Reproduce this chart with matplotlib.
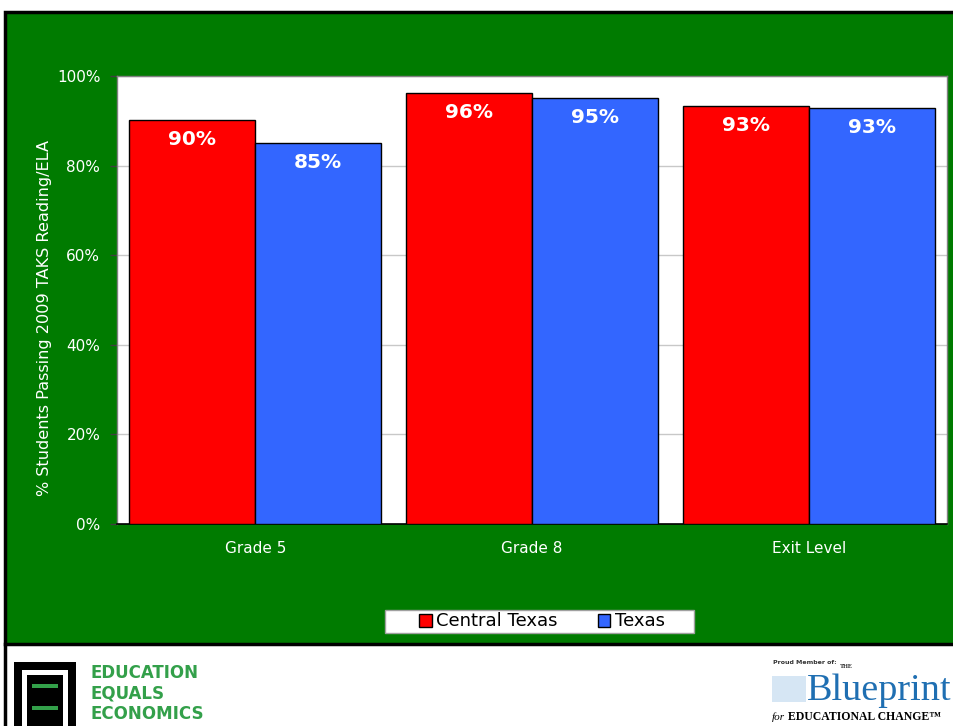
import matplotlib
matplotlib.use("Agg")
import matplotlib.pyplot as plt
from matplotlib.patches import Rectangle
import numpy as np

categories = ["Grade 5", "Grade 8", "Exit Level"]
central_texas = [90.2, 96.1, 93.3]
texas = [85.0, 95.0, 92.9]
series_names = ["Central Texas", "Texas"]
bar_labels_ct = ["90%", "96%", "93%"]
bar_labels_tx = ["85%", "95%", "93%"]
yticks = [0, 20, 40, 60, 80, 100]
ytick_labels = ["0%", "20%", "40%", "60%", "80%", "100%"]
ylabel = "% Students Passing 2009 TAKS Reading/ELA"

W, H = 954, 726
fig = plt.figure(figsize=(W / 100, H / 100), dpi=100)
fig.patch.set_facecolor("white")

def fx(px):
    return px / W

def fy(py):
    return 1 - py / H

GREEN = "#007B00"
RED = "#FF0000"
BLUE = "#3366FF"

# green slide panel with black border
fig.patches.append(Rectangle((fx(5), fy(644)), fx(960) - fx(5), fy(12) - fy(644),
                             transform=fig.transFigure, facecolor=GREEN,
                             edgecolor="black", linewidth=2.5, zorder=-2))
fig.add_artist(plt.Line2D([fx(5.5), fx(5.5)], [0, fy(644)], transform=fig.transFigure,
                          color="black", linewidth=2.5, zorder=-2))

ax = fig.add_axes([fx(117), fy(524), fx(947) - fx(117), fy(76) - fy(524)])
ax.set_zorder(2)
ax.set_facecolor("white")

x = np.arange(len(categories))
bw = 0.455
b1 = ax.bar(x - bw / 2, central_texas, bw, color=RED, edgecolor="black", linewidth=1,
            label=series_names[0], zorder=3)
b2 = ax.bar(x + bw / 2, texas, bw, color=BLUE, edgecolor="black", linewidth=1,
            label=series_names[1], zorder=3)

for bars, labs in ((b1, bar_labels_ct), (b2, bar_labels_tx)):
    for r, lab in zip(bars, labs):
        ax.annotate(lab, (r.get_x() + r.get_width() / 2, r.get_height()),
                    xytext=(0, -14), textcoords="offset points",
                    ha="center", va="center", color="white",
                    fontsize=14.5, fontweight="bold", zorder=4)

ax.set_xlim(-0.5, len(categories) - 0.5)
ax.set_ylim(0, 100)
ax.set_yticks(yticks)
ax.set_yticklabels(ytick_labels)
ax.set_xticks(x)
ax.set_xticklabels(categories)
ax.yaxis.grid(True, color="#C8C8C8", linewidth=1, zorder=0)
ax.set_axisbelow(True)
ax.tick_params(axis="y", colors="#404040", labelcolor="white", labelsize=11,
               length=5, width=1, pad=7, direction="out")
ax.tick_params(axis="x", labelcolor="white", labelsize=11, length=0, pad=12)
for s in ("left", "top", "right"):
    ax.spines[s].set_color("#808080")
    ax.spines[s].set_linewidth(1)
ax.spines["bottom"].set_color("black")
ax.spines["bottom"].set_linewidth(1.2)

ax.set_ylabel(ylabel, color="white", fontsize=11.6)
ax.yaxis.set_label_coords((52 - 117) / 830, 0.459)

# legend box
fig.patches.append(Rectangle((fx(385), fy(633)), fx(694) - fx(385), fy(610) - fy(633),
                             transform=fig.transFigure, facecolor="white",
                             edgecolor="#A0A0A0", linewidth=1, zorder=1))
leg = fig.legend(handles=[b1, b2], labels=series_names, ncol=2, frameon=False,
                 loc="center", bbox_to_anchor=(fx(542), fy(621.5)),
                 fontsize=13, handlelength=0.7, handleheight=0.7,
                 handletextpad=0.25, columnspacing=2.2, borderpad=0)
leg.set_zorder(3)

# left logo: Education Equals Economics
fig.patches.append(Rectangle((fx(14), fy(726)), fx(76) - fx(14), fy(662) - fy(726),
                             transform=fig.transFigure, facecolor="black",
                             edgecolor="none", zorder=1))
fig.patches.append(Rectangle((fx(22), fy(726)), fx(68) - fx(22), fy(670) - fy(726),
                             transform=fig.transFigure, facecolor="white",
                             edgecolor="none", zorder=1))
fig.patches.append(Rectangle((fx(27), fy(726)), fx(63) - fx(27), fy(675) - fy(726),
                             transform=fig.transFigure, facecolor="black",
                             edgecolor="none", zorder=1))
for yy in (684, 706):
    fig.patches.append(Rectangle((fx(32), fy(yy + 4)), fx(58) - fx(32), fy(yy) - fy(yy + 4),
                                 transform=fig.transFigure, facecolor="#33A04A",
                                 edgecolor="none", zorder=2))
for i, word in enumerate(["EDUCATION", "EQUALS", "ECONOMICS"]):
    fig.text(fx(91), fy(673 + i * 20.5), word, color="#33A04A", fontsize=13.3,
             fontweight="bold", fontstretch="condensed", ha="left", va="center",
             family="DejaVu Sans")

# right logo: The Blueprint for Educational Change
fig.text(fx(773), fy(662), "Proud Member of:", fontsize=4.5, color="#333333",
         ha="left", va="center", fontweight="bold")
fig.patches.append(Rectangle((fx(772), fy(702)), fx(806) - fx(772), fy(676) - fy(702),
                             transform=fig.transFigure, facecolor="#D6E6F4",
                             edgecolor="none", zorder=1))
fig.text(fx(846), fy(667), "THE", fontsize=4.5, color="#222222", ha="center",
         va="center", family="Liberation Serif", fontweight="bold")
fig.text(fx(807), fy(691), "Blueprint", fontsize=27.5, color="#1F6FB2", ha="left",
         va="center", family="Liberation Serif")
fig.text(fx(772), fy(717), "for", fontsize=8, color="black", ha="left", va="center",
         family="Liberation Serif", style="italic")
fig.text(fx(788), fy(717), "EDUCATIONAL CHANGE\u2122", fontsize=8.5, color="black",
         ha="left", va="center", family="Liberation Serif", fontweight="bold")

fig.savefig("out.png", dpi=100, facecolor=fig.get_facecolor())
